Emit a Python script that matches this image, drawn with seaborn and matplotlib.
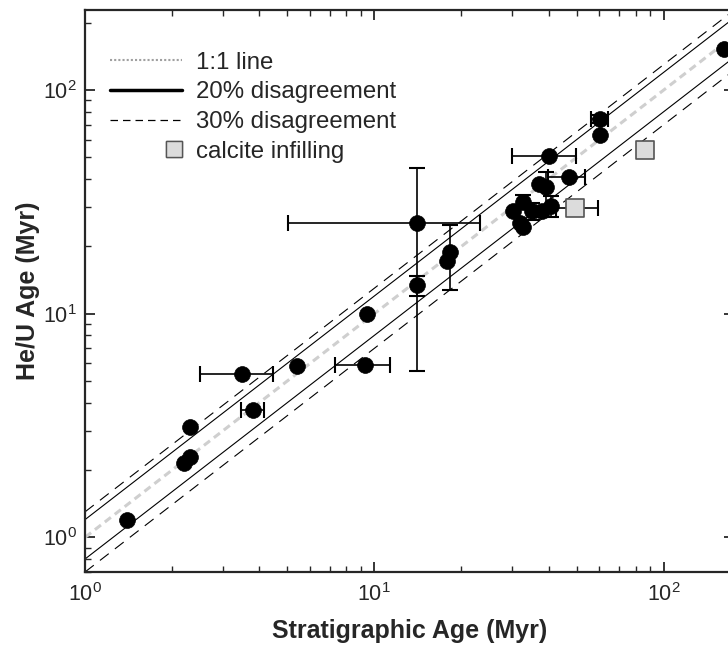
import numpy as np
import pandas as pd
import matplotlib
matplotlib.use("Agg")
import matplotlib.pyplot as plt
import seaborn as sns
from matplotlib.lines import Line2D
from matplotlib.legend_handler import HandlerLine2D
from matplotlib.ticker import LogLocator, NullFormatter

# sample ages (Myr)
strat_age = [1.4, 2.3, 2.3, 2.2, 3.5, 3.8, 5.4, 9.3, 9.4, 14.0, 14.0, 18.2, 17.8,
             40.2, 47.0, 37.1, 39.3, 32.7, 30.2, 35.1, 38.0, 40.9, 32.0, 32.6,
             60.1, 60.1, 162.0]
heu_age = [1.2, 3.1, 2.28, 2.14, 5.4, 3.7, 5.85, 5.9, 10.0, 25.4, 13.4, 18.9, 17.2,
           50.7, 41.0, 37.9, 37.0, 31.6, 28.7, 28.7, 28.7, 30.2, 25.4, 24.5,
           74.3, 63.2, 152.0]
# error bar bounds, NaN where there is no bar
strat_lo = [np.nan, np.nan, np.nan, np.nan, 2.49, 3.45, np.nan, 7.3, np.nan, 5.03, np.nan, np.nan, np.nan,
            29.9, 39.8, np.nan, np.nan, np.nan, np.nan, np.nan, np.nan, np.nan, np.nan, np.nan,
            56.3, np.nan, np.nan]
strat_hi = [np.nan, np.nan, np.nan, np.nan, 4.47, 4.15, np.nan, 11.3, np.nan, 23.1, np.nan, np.nan, np.nan,
            49.9, 53.4, np.nan, np.nan, np.nan, np.nan, np.nan, np.nan, np.nan, np.nan, np.nan,
            64.2, np.nan, np.nan]
heu_lo = [np.nan, np.nan, np.nan, np.nan, np.nan, np.nan, np.nan, np.nan, np.nan, 5.56, 12.0, 12.8, np.nan,
          np.nan, np.nan, np.nan, 30.0, 30.0, np.nan, 26.2, np.nan, 27.1, np.nan, np.nan,
          71.5, np.nan, np.nan]
heu_hi = [np.nan, np.nan, np.nan, np.nan, np.nan, np.nan, np.nan, np.nan, np.nan, 45.0, 14.7, 24.9, np.nan,
          np.nan, np.nan, np.nan, 42.9, 33.8, np.nan, 31.1, np.nan, 33.5, np.nan, np.nan,
          77.0, np.nan, np.nan]

# calcite infilling samples
calcite_strat = [49.3, 86.3]
calcite_heu = [29.7, 54.2]
calcite_lo = [42.6, np.nan]
calcite_hi = [59.3, np.nan]

ref_lines = {"1:1": 1.0, "20% hi": 1.2, "20% lo": 0.8, "30% hi": 1.3, "30% lo": 0.7}


class RightMarkerHandler(HandlerLine2D):
    # one marker near the right end of the handle, as in the original
    def get_xdata(self, legend, xdescent, ydescent, width, height, fontsize):
        pos = -xdescent + 0.89 * width
        xdata = np.array([pos, pos])
        return xdata, xdata


def draw_errorbars(ax, x, y, xlo, xhi, ylo, yhi):
    df = pd.DataFrame({"x": x, "y": y, "xlo": xlo, "xhi": xhi, "ylo": ylo, "yhi": yhi})
    kw = dict(fmt="none", ecolor="black", elinewidth=1.2, capsize=6, capthick=1.5, zorder=3)
    dx = df.dropna(subset=["xlo"])
    ax.errorbar(dx["x"], dx["y"], xerr=[dx["x"] - dx["xlo"], dx["xhi"] - dx["x"]], **kw)
    dy = df.dropna(subset=["ylo"])
    ax.errorbar(dy["x"], dy["y"], yerr=[dy["y"] - dy["ylo"], dy["yhi"] - dy["y"]], **kw)


def plot_age_comparison(output_path="out.png"):
    sns.set_theme(style="ticks")
    plt.rcParams["font.family"] = ["Liberation Sans", "DejaVu Sans"]
    plt.rcParams["mathtext.fontset"] = "custom"
    plt.rcParams["mathtext.rm"] = "Liberation Sans"
    plt.rcParams["mathtext.it"] = "Liberation Sans:italic"
    plt.rcParams["mathtext.bf"] = "Liberation Sans:bold"

    fig = plt.figure(figsize=(7.28, 6.47), dpi=100)
    ax = fig.add_axes([85 / 728, 75 / 647, 649 / 728, 562 / 647])
    ax.set_xscale("log")
    ax.set_yscale("log")
    xlim = (1, 175)
    ylim = (0.7, 228)

    xx = np.array(xlim, dtype=float)
    ax.plot(xx, xx * ref_lines["1:1"], color="#cfcfcf", lw=2.2,
            linestyle=(0, (2.5, 1.6)), zorder=1)
    for key in ["20% hi", "20% lo"]:
        ax.plot(xx, xx * ref_lines[key], color="black", lw=0.8, zorder=1)
    for key in ["30% hi", "30% lo"]:
        ax.plot(xx, xx * ref_lines[key], color="black", lw=0.8,
                linestyle=(0, (10, 7)), zorder=1)

    draw_errorbars(ax, strat_age, heu_age, strat_lo, strat_hi, heu_lo, heu_hi)
    draw_errorbars(ax, calcite_strat, calcite_heu, calcite_lo, calcite_hi,
                   [np.nan] * 2, [np.nan] * 2)

    sns.scatterplot(x=strat_age, y=heu_age, ax=ax, color="black", marker="o",
                    s=130, edgecolor="black", linewidth=0.5, zorder=4, legend=False)
    sns.scatterplot(x=calcite_strat, y=calcite_heu, ax=ax, color="#dcdcdc", marker="s",
                    s=180, edgecolor="#555555", linewidth=1.2, zorder=4, legend=False)

    ax.set_xlim(xlim)
    ax.set_ylim(ylim)

    for axis in (ax.xaxis, ax.yaxis):
        axis.set_major_locator(LogLocator(base=10, numticks=10))
        axis.set_minor_locator(LogLocator(base=10, subs=np.arange(2, 10), numticks=20))
        axis.set_minor_formatter(NullFormatter())
    ax.tick_params(which="both", direction="in", top=True, right=True,
                   colors="#262626", labelcolor="#262626")
    ax.tick_params(which="major", length=7, width=1.3, labelsize=15.5)
    ax.tick_params(axis="x", which="major", pad=8)
    ax.tick_params(axis="y", which="major", pad=6)
    ax.tick_params(which="minor", length=4, width=1.0)
    for spine in ax.spines.values():
        spine.set_linewidth(1.6)
        spine.set_color("#262626")

    ax.set_xlabel("Stratigraphic Age (Myr)", fontsize=18, fontweight="bold",
                  color="#262626", labelpad=9)
    ax.set_ylabel("He/U Age (Myr)", fontsize=18, fontweight="bold",
                  color="#262626", labelpad=2)

    handles = [
        Line2D([], [], color="#a0a0a0", lw=1.5, linestyle=(0, (1, 1))),
        Line2D([], [], color="black", lw=2.5),
        Line2D([], [], color="black", lw=0.9, linestyle=(0, (6, 4))),
        Line2D([], [], color="#dcdcdc", marker="s", markersize=11, lw=0,
               markeredgecolor="#555555", markeredgewidth=1.0),
    ]
    labels = ["1:1 line", "20% disagreement", "30% disagreement", "calcite infilling"]
    ax.legend(handles, labels, loc="upper left", bbox_to_anchor=(0.0385, 0.926),
              frameon=False, fontsize=17.3, handlelength=3.0, handletextpad=0.6,
              labelspacing=0.32, borderpad=0, borderaxespad=0, numpoints=1,
              handler_map={handles[3]: RightMarkerHandler(numpoints=2)})

    fig.savefig(output_path, dpi=100)
    plt.close(fig)
    return output_path


if __name__ == "__main__":
    plot_age_comparison()
